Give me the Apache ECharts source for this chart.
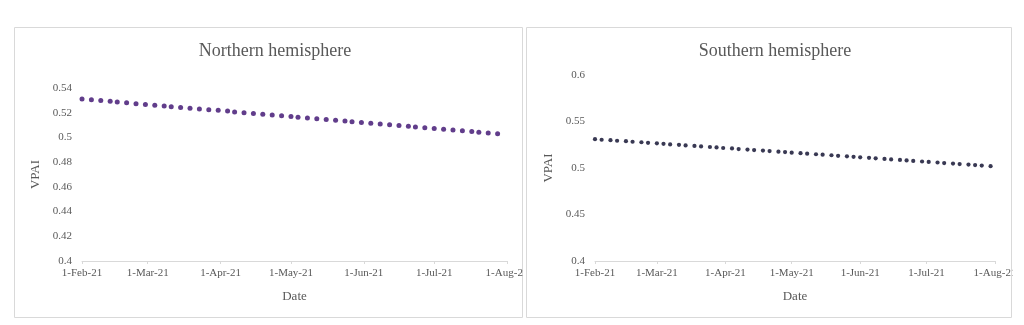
<!DOCTYPE html>
<html>
<head>
<meta charset="utf-8">
<script src="https://cdn.jsdelivr.net/npm/echarts@6/dist/echarts.min.js"></script>
<style>
html,body{margin:0;padding:0;background:#fff;}
#wrap{position:relative;width:1024px;height:325px;overflow:hidden;}
#north{position:absolute;left:0;top:0;width:524px;height:325px;}
#south{position:absolute;left:521px;top:0;width:492px;height:325px;}
</style>
</head>
<body>
<div id="wrap"><div id="north"></div><div id="south"></div></div>
<script>
// Tick labels (month starts)
const tickDates = ['2021-02-01','2021-03-01','2021-04-01','2021-05-01','2021-06-01','2021-07-01','2021-08-01'];
const tickLabels = ['1-Feb-21','1-Mar-21','1-Apr-21','1-May-21','1-Jun-21','1-Jul-21','1-Aug-21'];

// Northern hemisphere
const northDates = ['2021-02-01','2021-02-05','2021-02-09','2021-02-13','2021-02-16','2021-02-20','2021-02-24','2021-02-28',
 '2021-03-04','2021-03-08','2021-03-11','2021-03-15','2021-03-19','2021-03-23','2021-03-27','2021-03-31',
 '2021-04-04','2021-04-07','2021-04-11','2021-04-15','2021-04-19','2021-04-23','2021-04-27',
 '2021-05-01','2021-05-04','2021-05-08','2021-05-12','2021-05-16','2021-05-20','2021-05-24','2021-05-27','2021-05-31',
 '2021-06-04','2021-06-08','2021-06-12','2021-06-16','2021-06-20','2021-06-23','2021-06-27',
 '2021-07-01','2021-07-05','2021-07-09','2021-07-13','2021-07-17','2021-07-20','2021-07-24','2021-07-28'];
const northVPAI = [0.5310,0.5304,0.5298,0.5292,0.5286,0.5280,0.5273,0.5267,0.5261,0.5255,0.5249,0.5243,0.5237,0.5231,0.5225,0.5219,
 0.5213,0.5206,0.5200,0.5194,0.5188,0.5182,0.5176,0.5170,0.5164,0.5158,0.5152,0.5146,0.5139,0.5133,0.5127,0.5121,
 0.5115,0.5109,0.5103,0.5097,0.5091,0.5085,0.5079,0.5072,0.5066,0.5060,0.5054,0.5048,0.5042,0.5036,0.5030];

// Southern hemisphere
const southDates = ['2021-02-01','2021-02-04','2021-02-08','2021-02-11','2021-02-15','2021-02-18','2021-02-22','2021-02-25',
 '2021-03-01','2021-03-04','2021-03-07','2021-03-11','2021-03-14','2021-03-18','2021-03-21','2021-03-25','2021-03-28','2021-03-31',
 '2021-04-04','2021-04-07','2021-04-11','2021-04-14','2021-04-18','2021-04-21','2021-04-25','2021-04-28',
 '2021-05-01','2021-05-05','2021-05-08','2021-05-12','2021-05-15','2021-05-19','2021-05-22','2021-05-26','2021-05-29',
 '2021-06-01','2021-06-05','2021-06-08','2021-06-12','2021-06-15','2021-06-19','2021-06-22','2021-06-25','2021-06-29',
 '2021-07-02','2021-07-06','2021-07-09','2021-07-13','2021-07-16','2021-07-20','2021-07-23','2021-07-26','2021-07-30'];
const southVPAI = [0.5310,0.5304,0.5299,0.5293,0.5288,0.5282,0.5277,0.5271,0.5265,0.5260,0.5254,0.5249,0.5243,0.5237,0.5232,0.5226,
 0.5221,0.5215,0.5210,0.5204,0.5198,0.5193,0.5187,0.5182,0.5176,0.5171,0.5165,0.5159,0.5154,0.5148,0.5143,0.5137,
 0.5131,0.5126,0.5120,0.5115,0.5109,0.5104,0.5098,0.5092,0.5087,0.5081,0.5076,0.5070,0.5065,0.5059,0.5053,0.5048,
 0.5042,0.5037,0.5031,0.5026,0.5020];

const northYTicks = {min:0.4, max:0.54, interval:0.02};
const southYTicks = {min:0.4, max:0.6, interval:0.05};

// days since 1-Feb-21 (UTC-based to avoid DST effects)
const BASE = Date.UTC(2021,1,1);
const toDay = s => { const p = s.split('-').map(Number); return Math.round((Date.UTC(p[0], p[1]-1, p[2]) - BASE)/86400000); };
const tickDays = tickDates.map(toDay);
const FONT = '"Liberation Serif", "Times New Roman", serif';
const TXT = '#595959';
const AXIS = '#d9d9d9';

function makeOption(cfg){
  return {
    animation:false,
    graphic:[{type:'rect', shape:{x:cfg.box[0], y:cfg.box[1], width:cfg.box[2], height:cfg.box[3]},
      style:{fill:'none', stroke:AXIS, lineWidth:1}, silent:true, z:-1}],
    title:{text:cfg.title, left:cfg.titleX, top:37, textAlign:'center',
      textStyle:{fontFamily:FONT, fontSize:18, fontWeight:'normal', color:TXT}},
    grid:{left:cfg.gridLeft, width:cfg.gridWidth, top:cfg.gridTop, bottom:64,
      containLabel:false, outerBoundsMode:'none'},
    xAxis:{type:'value', min:tickDays[0], max:tickDays[tickDays.length-1],
      name:'Date', nameLocation:'middle', nameGap:29,
      nameTextStyle:{fontFamily:FONT, fontSize:13, color:TXT},
      axisLine:{show:true, lineStyle:{color:AXIS, width:1}},
      axisTick:{show:true, length:3, lineStyle:{color:AXIS}, customValues:tickDays},
      axisLabel:{show:true, fontFamily:FONT, fontSize:11, color:TXT, margin:7,
        customValues:tickDays, hideOverlap:false, showMinLabel:true, showMaxLabel:true,
        formatter:function(v){ const i = tickDays.indexOf(Math.round(v)); return i>=0 ? tickLabels[i] : ''; }},
      splitLine:{show:false}},
    yAxis:{type:'value', min:cfg.y.min, max:cfg.y.max, interval:cfg.y.interval,
      name:'VPAI', nameLocation:'middle', nameGap:cfg.yNameGap, nameRotate:90,
      nameTextStyle:{fontFamily:FONT, fontSize:13, color:TXT},
      axisLine:{show:false}, axisTick:{show:false},
      axisLabel:{fontFamily:FONT, fontSize:11, color:TXT, margin:10},
      splitLine:{show:false}},
    series:[{type:'scatter', symbol:'circle', symbolSize:cfg.size,
      itemStyle:{color:cfg.color},
      data:cfg.dates.map((d,i)=>[toDay(d), cfg.values[i]])}]
  };
}

const north = echarts.init(document.getElementById('north'), null, {renderer:'canvas'});
north.setOption(makeOption({title:'Northern hemisphere', titleX:270, box:[14.5,27.5,508,290],
  gridLeft:82, gridWidth:425, gridTop:88, y:northYTicks, yNameGap:35,
  dates:northDates, values:northVPAI, color:'#3a0c6e', size:5}));

const south = echarts.init(document.getElementById('south'), null, {renderer:'canvas'});
south.setOption(makeOption({title:'Southern hemisphere', titleX:249, box:[5.5,27.5,485,290],
  gridLeft:74, gridWidth:400, gridTop:75, y:southYTicks, yNameGap:37,
  dates:southDates, values:southVPAI, color:'#080828', size:4.2}));
</script>
</body>
</html>
